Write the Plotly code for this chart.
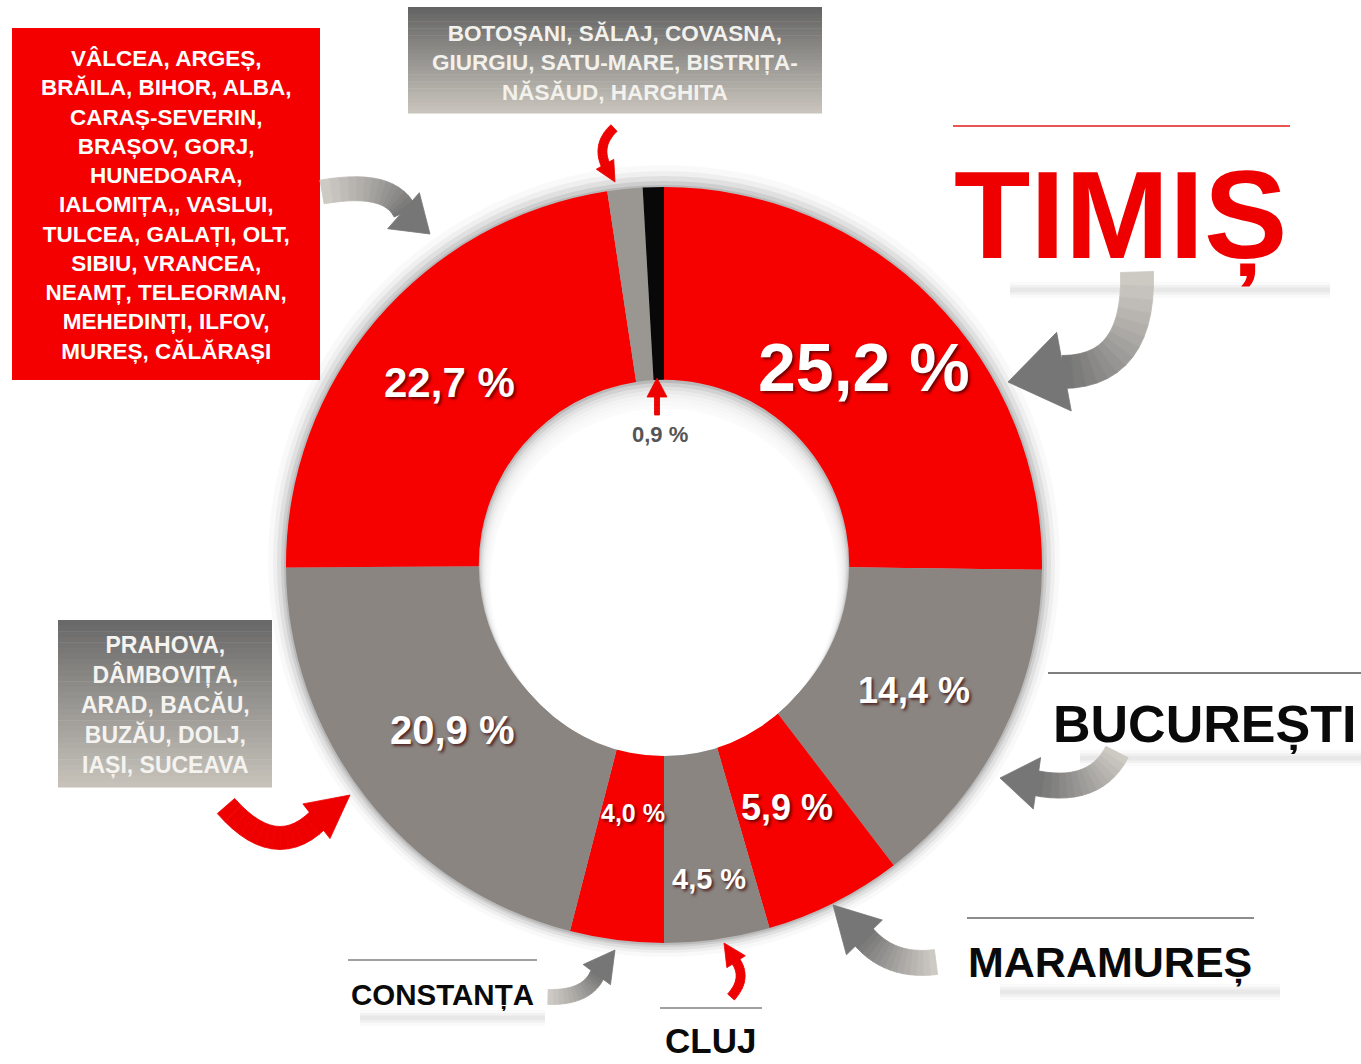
import math
import plotly.graph_objects as go

# ---------------- data ----------------
categories = [
    "TIMIȘ", "BUCUREȘTI", "MARAMUREȘ", "CLUJ", "CONSTANȚA",
    "PRAHOVA, DÂMBOVIȚA, ARAD, BACĂU, BUZĂU, DOLJ, IAȘI, SUCEAVA",
    "VÂLCEA, ARGEȘ, BRĂILA, BIHOR, ALBA, CARAȘ-SEVERIN, BRAȘOV, GORJ, HUNEDOARA, IALOMIȚA, VASLUI, TULCEA, GALAȚI, OLT, SIBIU, VRANCEA, NEAMȚ, TELEORMAN, MEHEDINȚI, ILFOV, MUREȘ, CĂLĂRAȘI",
    "BOTOȘANI, SĂLAJ, COVASNA, GIURGIU, SATU-MARE, BISTRIȚA-NĂSĂUD, HARGHITA",
    "ALTELE",
]
shares = [25.2, 14.4, 5.9, 4.5, 4.0, 20.9, 22.7, 1.5, 0.9]
shown_labels = [True, True, True, True, True, True, True, False, True]

group_red_text = ("VÂLCEA, ARGEȘ,<br>BRĂILA, BIHOR, ALBA,<br>CARAȘ-SEVERIN,<br>BRAȘOV, GORJ,<br>HUNEDOARA,<br>"
                  "IALOMIȚA,, VASLUI,<br>TULCEA, GALAȚI, OLT,<br>SIBIU, VRANCEA,<br>NEAMȚ, TELEORMAN,<br>"
                  "MEHEDINȚI, ILFOV,<br>MUREȘ, CĂLĂRAȘI")
group_top_text = "BOTOȘANI, SĂLAJ, COVASNA,<br>GIURGIU, SATU-MARE, BISTRIȚA-<br>NĂSĂUD, HARGHITA"
group_left_text = "PRAHOVA,<br>DÂMBOVIȚA,<br>ARAD, BACĂU,<br>BUZĂU, DOLJ,<br>IAȘI, SUCEAVA"

# ---------------- style ----------------
W, H = 1361, 1064
RED = "#f70000"
GRAY = "#8a8581"
slice_colors = [RED, GRAY, RED, GRAY, RED, GRAY, RED, "#9a9691", "#080808"]
label_sizes = [68, 36, 36, 29, 25, 40, 42, 0, 22]
label_rfrac = [0.745, 0.74, 0.72, 0.84, 0.66, 0.71, 0.745, 0.0, 0.345]
label_colors = ["white"] * 8 + ["#555555"]
FONT = "Liberation Sans, Arial, Helvetica, sans-serif"

cx, cy, R = 664, 565, 378
HOLE = 0.49


def P(x, y):
    return x / W, 1 - y / H


shapes = []
annotations = []

# soft outer shadow of the ring
for dr, dy, op in [(18, -4, 0.025), (13, -3, 0.04), (9, -2, 0.06), (5, -1, 0.08), (2, 0, 0.10)]:
    x0, y0 = P(cx - R - dr, cy - R - dr + dy)
    x1, y1 = P(cx + R + dr, cy + R + dr + dy)
    shapes.append(dict(type="circle", xref="paper", yref="paper", x0=x0, y0=y1, x1=x1, y1=y0,
                       fillcolor=f"rgba(0,0,0,{op})", line=dict(width=0), layer="below"))

fig = go.Figure(go.Pie(
    labels=categories, values=shares, sort=False, direction="clockwise", rotation=0,
    hole=HOLE, marker=dict(colors=slice_colors, line=dict(width=0)),
    textinfo="none", textposition="none", showlegend=False,
    domain=dict(x=[(cx - R) / W, (cx + R) / W], y=[1 - (cy + R) / H, 1 - (cy - R) / H]),
))

# inner hole shadow (soft grey toward the top of the hole)
r_in = R * HOLE
for k in range(8):
    rr = r_in - 1 - k * 1.5
    dy = 2 + k * 2.2
    x0, y0 = P(cx - rr, cy - rr + dy)
    x1, y1 = P(cx + rr, cy + rr + dy)
    shapes.append(dict(type="circle", xref="paper", yref="paper", x0=x0, y0=y1, x1=x1, y1=y0,
                       fillcolor=f"rgba(255,255,255,{0.35 if k < 7 else 1})", line=dict(width=0),
                       layer="above"))

# slice value labels, positioned from the cumulative shares
total = sum(shares)
cum = 0.0
for v, show, fs, rf, col in zip(shares, shown_labels, label_sizes, label_rfrac, label_colors):
    mid = (cum + v / 2) / total
    cum += v
    if not show:
        continue
    th = 2 * math.pi * mid
    px = cx + rf * R * math.sin(th)
    py = cy - rf * R * math.cos(th)
    x, y = P(px, py)
    txt = f"{v:.1f}".replace(".", ",") + " %"
    fnt = dict(family=FONT, size=fs, color=col, weight="bold")
    if col == "white":
        fnt["shadow"] = "2px 2px 3px rgba(60,0,0,0.75)"
    annotations.append(dict(x=x, y=y, xref="paper", yref="paper", text=txt, showarrow=False,
                            font=fnt, xanchor="center", yanchor="middle"))


# ---------------- boxes ----------------
def rect(x0p, y0p, x1p, y1p, color):
    a, b = P(x0p, y0p)
    c, d = P(x1p, y1p)
    shapes.append(dict(type="rect", xref="paper", yref="paper", x0=a, y0=d, x1=c, y1=b,
                       fillcolor=color, line=dict(width=0), layer="above"))


def grad_rect(x0p, y0p, x1p, y1p, top, bot, n=30):
    h = (y1p - y0p) / n
    for i in range(n):
        t = i / (n - 1)
        c = tuple(int(round(top[k] + (bot[k] - top[k]) * t)) for k in range(3))
        rect(x0p, y0p + i * h, x1p, y0p + (i + 1) * h + 0.6, f"rgb{c}")


rect(12, 28, 320, 380, "#f40000")
annotations.append(dict(x=P(166, 0)[0], y=P(0, 205)[1], xref="paper", yref="paper", text=group_red_text,
                        showarrow=False, align="center", xanchor="center", yanchor="middle",
                        font=dict(family=FONT, size=22.5, color="white", weight="bold")))

grad_rect(408, 7, 822, 113, (100, 100, 100), (200, 196, 188))
annotations.append(dict(x=P(615, 0)[0], y=P(0, 63)[1], xref="paper", yref="paper", text=group_top_text,
                        showarrow=False, align="center", xanchor="center", yanchor="middle",
                        font=dict(family=FONT, size=22.5, color="#f3f1ec", weight="bold")))

grad_rect(58, 620, 272, 787, (105, 105, 105), (198, 194, 186))
annotations.append(dict(x=P(165, 0)[0], y=P(0, 705)[1], xref="paper", yref="paper", text=group_left_text,
                        showarrow=False, align="center", xanchor="center", yanchor="middle",
                        font=dict(family=FONT, size=23, color="#f5f3ef", weight="bold")))


# ---------------- headline names ----------------
def hline(x0p, x1p, yp, color, w=1.5):
    a, b = P(x0p, yp)
    c, _ = P(x1p, yp)
    shapes.append(dict(type="line", xref="paper", yref="paper", x0=a, y0=b, x1=c, y1=b,
                       line=dict(color=color, width=w), layer="above"))


def soft_bar(x0p, x1p, yp):
    for w, op in [(16, 0.02), (10, 0.03), (5, 0.04)]:
        a, b = P(x0p, yp)
        c, _ = P(x1p, yp)
        shapes.append(dict(type="line", xref="paper", yref="paper", x0=a, y0=b, x1=c, y1=b,
                           line=dict(color=f"rgba(0,0,0,{op})", width=w), layer="below"))


def name(text, xp, yp, size, color):
    x, y = P(xp, yp)
    annotations.append(dict(x=x, y=y, xref="paper", yref="paper", text=text, showarrow=False,
                            xanchor="center", yanchor="middle",
                            font=dict(family=FONT, size=size, color=color, weight="bold")))


soft_bar(1010, 1330, 290)
hline(953, 1290, 126, "#e21b1b", 1.5)
name(categories[0], 1120, 216, 125, "#ee0000")

soft_bar(1080, 1361, 758)
hline(1048, 1361, 673, "#555555", 1.5)
name(categories[1], 1204, 724, 52, "#0a0a0a")

soft_bar(1000, 1280, 992)
hline(967, 1254, 918, "#666666", 1.5)
name(categories[2], 1110, 962, 43, "#0a0a0a")

soft_bar(360, 545, 1018)
hline(348, 537, 960, "#444444", 1.2)
name(categories[4], 442, 994, 29.5, "#0a0a0a")

hline(660, 762, 1008, "#444444", 1.2)
name(categories[3], 710, 1040, 35, "#0a0a0a")


# ---------------- curved arrows ----------------
def arrow(s, c, e, tip, hw, width, color=None, shade=None, n=14):
    """quadratic body from s via c to e (filled band), triangular head from e to tip"""
    pts = []
    for i in range(n + 1):
        t = i / n
        x = (1 - t) ** 2 * s[0] + 2 * (1 - t) * t * c[0] + t ** 2 * e[0]
        y = (1 - t) ** 2 * s[1] + 2 * (1 - t) * t * c[1] + t ** 2 * e[1]
        dx = 2 * (1 - t) * (c[0] - s[0]) + 2 * t * (e[0] - c[0])
        dy = 2 * (1 - t) * (c[1] - s[1]) + 2 * t * (e[1] - c[1])
        L = math.hypot(dx, dy) or 1
        nx, ny = -dy / L, dx / L
        hwid = width / 2
        pts.append(((x + nx * hwid, y + ny * hwid), (x - nx * hwid, y - ny * hwid)))
    for i in range(n):
        if shade:
            t = i / (n - 1)
            col = "rgb" + str(tuple(int(shade[0][k] + (shade[1][k] - shade[0][k]) * t) for k in range(3)))
        else:
            col = color
        q = [pts[i][0], pts[i + 1][0], pts[i + 1][1], pts[i][1]]
        qq = [P(*p) for p in q]
        path = "M" + " L".join(f"{a},{b}" for a, b in qq) + " Z"
        shapes.append(dict(type="path", xref="paper", yref="paper", path=path,
                           fillcolor=col, line=dict(color=col, width=0.8), layer="above"))
    dx, dy = tip[0] - e[0], tip[1] - e[1]
    L = math.hypot(dx, dy)
    ux, uy = dx / L, dy / L
    px_, py_ = -uy, ux
    b1 = (e[0] + px_ * hw - ux * 2, e[1] + py_ * hw - uy * 2)
    b2 = (e[0] - px_ * hw - ux * 2, e[1] - py_ * hw - uy * 2)
    pa, pb, pc = P(*b1), P(*b2), P(*tip)
    hcol = color if not shade else "rgb" + str(tuple(shade[1]))
    shapes.append(dict(type="path", xref="paper", yref="paper",
                       path=f"M{pa[0]},{pa[1]} L{pb[0]},{pb[1]} L{pc[0]},{pc[1]} Z",
                       fillcolor=hcol, line=dict(color=hcol, width=0.8), layer="above"))


G_SHADE = ((205, 201, 195), (118, 118, 118))
ARED = "#ee0000"
# Timis
arrow((1137, 272), (1140, 372), (1062, 372), (1008, 382), 40, 33, shade=G_SHADE)
# Valcea group
arrow((322, 192), (390, 180), (405, 212), (430, 234), 24, 24, shade=G_SHADE)
# Botosani group
arrow((614, 128), (596, 145), (606, 166), (615, 182), 10, 9, color=ARED)
# 0,9 %
arrow((657, 415), (657, 405), (657, 395), (657, 378), 10, 5, color=ARED)
# Bucuresti
arrow((1117, 752), (1095, 795), (1035, 783), (1000, 778), 26, 25, shade=G_SHADE)
# Prahova group
arrow((226, 806), (275, 862), (318, 820), (350, 795), 22, 23, color=ARED)
# Constanta
arrow((548, 997), (588, 998), (598, 973), (615, 950), 17, 15, shade=G_SHADE)
# Cluj
arrow((731, 997), (748, 978), (735, 960), (724, 943), 11, 9, color=ARED)
# Maramures
arrow((936, 962), (890, 968), (863, 936), (833, 905), 25, 25, shade=G_SHADE)

fig.update_layout(
    width=W, height=H, margin=dict(l=0, r=0, t=0, b=0),
    paper_bgcolor="white", plot_bgcolor="white",
    shapes=shapes, annotations=annotations,
    font=dict(family=FONT),
)

fig.write_html("out.html", config={"displayModeBar": False},
               post_script="document.body.style.margin='0px';document.body.style.overflow='hidden';")
